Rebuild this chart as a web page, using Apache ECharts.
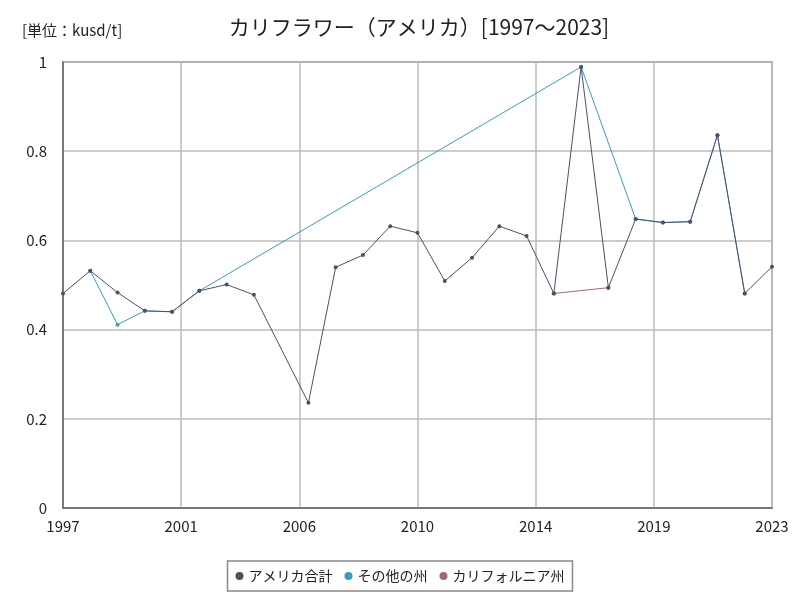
<!DOCTYPE html>
<html>
<head>
<meta charset="utf-8">
<script src="https://cdn.jsdelivr.net/npm/echarts@6/dist/echarts.min.js"></script>
<style>
  html, body { margin: 0; padding: 0; background: #fff; }
  #main { width: 800px; height: 600px; }
</style>
</head>
<body>
<div id="main"></div>
<script>
// values (kusd/t)
var years = [1997, 1998, 1999, 2000, 2001, 2002, 2003, 2004, 2005, 2006, 2007, 2008, 2009, 2010,
             2011, 2012, 2013, 2014, 2015, 2016, 2017, 2018, 2019, 2020, 2021, 2022, 2023];
var usTotal = [0.481, 0.532, 0.483, 0.442, 0.440, 0.487, 0.501, 0.478, null, 0.236, 0.540, 0.567, 0.632, 0.617,
               0.509, 0.561, 0.632, 0.610, 0.481, 0.989, 0.494, 0.648, 0.640, 0.642, 0.836, 0.481, 0.541];
var otherStates = [null, 0.532, 0.411, 0.442, 0.440, 0.487, null, null, null, null, null, null, null, null,
                   null, null, null, null, null, 0.989, null, 0.648, 0.640, 0.642, 0.836, 0.481, null];
var california = [null, null, null, null, null, null, null, null, null, null, null, null, null, null,
                  null, null, null, null, 0.481, null, 0.494, null, null, null, null, null, null];
var seriesNames = ['アメリカ合計', 'その他の州', 'カリフォルニア州'];
var colors = ['#4e4f66', '#3a9dbb', '#9c6b7b'];

var firstYear = years[0];
var lastYear = years[years.length - 1];

// x is stored as offset from first year so the ticks start at 0
function pairs(vals) {
  var out = [];
  for (var i = 0; i < years.length; i++) {
    if (vals[i] != null) out.push([years[i] - firstYear, vals[i]]);
  }
  return out;
}

var font = '"Noto Sans CJK JP", sans-serif';
var myChart = echarts.init(document.getElementById('main'));

function line(name, vals, color, z) {
  return {
    name: name,
    type: 'line',
    data: pairs(vals),
    z: z,
    symbol: 'circle',
    symbolSize: 4,
    itemStyle: { color: color },
    lineStyle: { color: color, width: 1 },
    emphasis: { disabled: true },
    animation: false
  };
}

var option = {
  textStyle: { fontFamily: font },
  title: [
    {
      text: 'カリフラワー（アメリカ）[1997～2023]',
      left: 414, top: 12, textAlign: 'center',
      textStyle: { fontFamily: font, fontSize: 21, fontWeight: 'normal', color: '#222' }
    },
    {
      text: '[単位：kusd/t]',
      left: 17, top: 18,
      textStyle: { fontFamily: font, fontSize: 15, fontWeight: 'normal', color: '#222' }
    }
  ],
  legend: {
    bottom: 9,
    left: 'center',
    data: seriesNames,
    icon: 'circle',
    itemWidth: 8, itemHeight: 8, itemGap: 12,
    borderColor: '#888', borderWidth: 1.5, borderRadius: 0,
    padding: [8, 8],
    textStyle: { fontFamily: font, fontSize: 14, color: '#222' }
  },
  grid: { left: 63, right: 28, top: 62, bottom: 92, show: true, borderColor: '#777', borderWidth: 1.5 },
  xAxis: {
    type: 'value',
    min: 0,
    max: lastYear - firstYear,
    interval: (lastYear - firstYear) / 6,
    axisLine: { show: true, lineStyle: { color: '#666', width: 1.5 } },
    axisTick: { show: false },
    splitLine: { show: true, lineStyle: { color: '#bbb', width: 1.5 } },
    axisLabel: {
      fontFamily: font, fontSize: 15, color: '#222', margin: 11,
      formatter: function (v) { return String(Math.round(v + firstYear)); }
    }
  },
  yAxis: {
    type: 'value',
    min: 0, max: 1, interval: 0.2,
    axisLine: { show: true, lineStyle: { color: '#666', width: 1.5 } },
    axisTick: { show: false },
    splitLine: { show: true, lineStyle: { color: '#bbb', width: 1.5 } },
    axisLabel: { fontFamily: font, fontSize: 15, color: '#222', margin: 16 }
  },
  series: [
    line(seriesNames[0], usTotal, colors[0], 4),
    line(seriesNames[1], otherStates, colors[1], 3),
    line(seriesNames[2], california, colors[2], 3)
  ]
};

myChart.setOption(option);
window.addEventListener('resize', myChart.resize);
</script>
</body>
</html>
